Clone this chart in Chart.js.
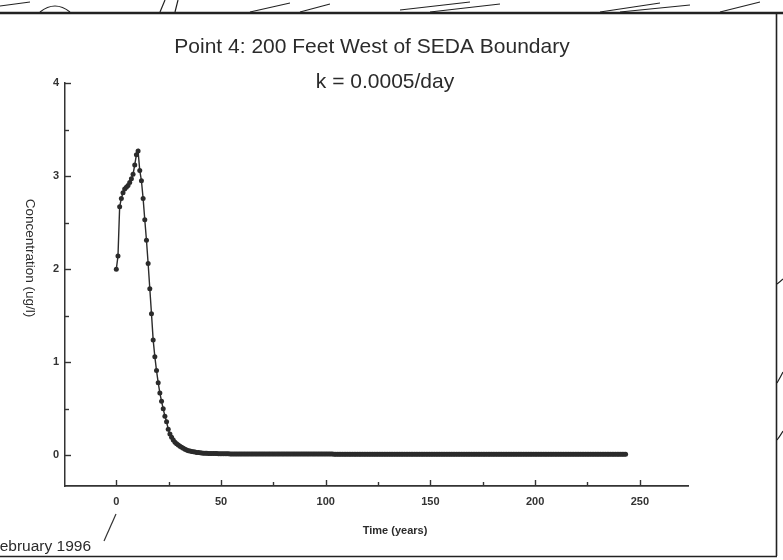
<!DOCTYPE html>
<html>
<head>
<meta charset="utf-8">
<script src="https://cdn.jsdelivr.net/npm/chart.js@4.4.1/dist/chart.umd.min.js"></script>
<style>
  html, body { margin: 0; padding: 0; background: #ffffff; overflow: hidden; }
  #c { display: block; }
</style>
</head>
<body>
<canvas id="c" width="783" height="560"></canvas>
<script>
// ---- Data ----
const titleLines = ['Point 4: 200 Feet West of SEDA Boundary', 'k = 0.0005/day'];
const xAxisTitle = 'Time (years)';
const yAxisTitle = 'Concentration (ug/l)';
const startNote = 'February 1996';
const timeStepYears = 0.8;   // spacing of the model output points (years)
const concentration = [
  2.00, 2.14, 2.67, 2.76, 2.82, 2.86, 2.88, 2.90, 2.93, 2.97,
  3.02, 3.12, 3.23, 3.27, 3.06, 2.95, 2.76, 2.53, 2.31, 2.06,
  1.79, 1.52, 1.24, 1.06, 0.91, 0.78, 0.67, 0.58, 0.50, 0.42,
  0.36, 0.28, 0.23, 0.195, 0.165, 0.14, 0.125, 0.11, 0.097, 0.086,
  0.075, 0.065, 0.056, 0.050, 0.045, 0.041, 0.037, 0.034, 0.031, 0.029,
  0.027, 0.025, 0.023, 0.022, 0.021, 0.020, 0.019, 0.019, 0.018, 0.018,
  0.018, 0.017, 0.017, 0.017, 0.016, 0.016, 0.016, 0.016, 0.015, 0.015,
  0.015, 0.015, 0.015, 0.015, 0.015, 0.015, 0.015, 0.015, 0.015, 0.015,
  0.014, 0.014, 0.014, 0.014, 0.014, 0.014, 0.014, 0.014, 0.014, 0.014,
  0.014, 0.014, 0.014, 0.014, 0.014, 0.014, 0.014, 0.014, 0.014, 0.014,
  0.013, 0.013, 0.013, 0.013, 0.013, 0.013, 0.013, 0.013, 0.013, 0.013,
  0.013, 0.013, 0.013, 0.013, 0.013, 0.013, 0.013, 0.013, 0.013, 0.013,
  0.013, 0.013, 0.013, 0.013, 0.013, 0.013, 0.013, 0.013, 0.013, 0.013,
  0.012, 0.012, 0.012, 0.012, 0.012, 0.012, 0.012, 0.012, 0.012, 0.012,
  0.012, 0.012, 0.012, 0.012, 0.012, 0.012, 0.012, 0.012, 0.012, 0.012,
  0.012, 0.012, 0.012, 0.012, 0.012, 0.012, 0.012, 0.012, 0.012, 0.012,
  0.012, 0.012, 0.012, 0.012, 0.012, 0.012, 0.012, 0.012, 0.012, 0.012,
  0.011, 0.011, 0.011, 0.011, 0.011, 0.011, 0.011, 0.011, 0.011, 0.011,
  0.011, 0.011, 0.011, 0.011, 0.011, 0.011, 0.011, 0.011, 0.011, 0.011,
  0.011, 0.011, 0.011, 0.011, 0.011, 0.011, 0.011, 0.011, 0.011, 0.011,
  0.011, 0.011, 0.011, 0.011, 0.011, 0.011, 0.011, 0.011, 0.011, 0.011,
  0.011, 0.011, 0.011, 0.011, 0.011, 0.011, 0.011, 0.011, 0.011, 0.011,
  0.010, 0.010, 0.010, 0.010, 0.010, 0.010, 0.010, 0.010, 0.010, 0.010,
  0.010, 0.010, 0.010, 0.010, 0.010, 0.010, 0.010, 0.010, 0.010, 0.010,
  0.010, 0.010, 0.010, 0.010, 0.010, 0.010, 0.010, 0.010, 0.010, 0.010,
  0.010, 0.010, 0.010, 0.010, 0.010, 0.010, 0.010, 0.010, 0.010, 0.010,
  0.010, 0.010, 0.010, 0.010, 0.010, 0.010, 0.010, 0.010, 0.010, 0.010,
  0.010, 0.010, 0.010, 0.010, 0.010, 0.010, 0.010, 0.010, 0.010, 0.010,
  0.010, 0.010, 0.010, 0.010, 0.010, 0.010, 0.010, 0.010, 0.010, 0.010,
  0.010, 0.010, 0.010, 0.010, 0.010, 0.010, 0.010, 0.010, 0.010, 0.010,
  0.010, 0.010, 0.010, 0.010, 0.010
];
const xTickStep = 25;      // ticks every 25 years, labels every 50
const yTickStep = 0.5;     // ticks every 0.5, labels every 1

// ---- Build points ----
const points = concentration.map((v, i) => ({ x: i * timeStepYears, y: v }));

const INK = '#2b2b2b';
const FONT = '"Liberation Sans", Arial, Helvetica, sans-serif';

const decor = {
  id: 'decor',
  afterDraw(chart) {
    const { ctx, chartArea, scales } = chart;
    const xs = scales.x, ys = scales.y;
    ctx.save();
    ctx.strokeStyle = '#333';
    ctx.lineWidth = 1.4;
    // inward tick marks
    xs.ticks.forEach(t => {
      const px = Math.round(xs.getPixelForValue(t.value)) + 0.5;
      const len = (t.value % 50 === 0) ? 6 : 4;
      ctx.beginPath();
      ctx.moveTo(px, chartArea.bottom);
      ctx.lineTo(px, chartArea.bottom - len);
      ctx.stroke();
    });
    ys.ticks.forEach(t => {
      if (t.value < 0) return;
      const py = Math.round(ys.getPixelForValue(t.value)) + 0.5;
      const len = Number.isInteger(t.value) ? 6 : 4;
      ctx.beginPath();
      ctx.moveTo(chartArea.left, py);
      ctx.lineTo(chartArea.left + len, py);
      ctx.stroke();
    });

    // titles
    ctx.fillStyle = INK;
    ctx.textBaseline = 'alphabetic';
    ctx.textAlign = 'center';
    ctx.font = '21px ' + FONT;
    ctx.fillText(titleLines[0], 372, 53);
    ctx.fillText(titleLines[1], 385, 88);

    // x axis title
    ctx.font = 'bold 11px ' + FONT;
    ctx.textBaseline = 'middle';
    ctx.fillText(xAxisTitle, 395, 531);

    // y axis title (reads top to bottom)
    ctx.save();
    ctx.translate(30, 258);
    ctx.rotate(Math.PI / 2);
    ctx.font = '13.5px ' + FONT;
    ctx.fillText(yAxisTitle, 0, 0);
    ctx.restore();

    // start-date note with pointer (left edge cut by the scan)
    ctx.textAlign = 'right';
    ctx.font = '15.5px ' + FONT;
    ctx.fillText(startNote, 91, 547);
    ctx.beginPath();
    ctx.lineWidth = 1.2;
    ctx.moveTo(104, 541);
    ctx.lineTo(116, 514);
    ctx.stroke();

    // page frame from the scanned sheet
    ctx.strokeStyle = '#222';
    ctx.lineWidth = 1.6;
    ctx.beginPath();
    ctx.moveTo(776.5, 14);
    ctx.lineTo(776.5, 556);
    ctx.moveTo(0, 556.5);
    ctx.lineTo(777, 556.5);
    ctx.stroke();
    ctx.lineWidth = 2.5;
    ctx.beginPath();
    ctx.moveTo(0, 13);
    ctx.lineTo(783, 13);
    ctx.stroke();
    // sketchy strokes above the frame
    ctx.lineWidth = 1.2;
    ctx.beginPath();
    ctx.moveTo(0, 6); ctx.lineTo(30, 2);
    ctx.moveTo(40, 12); ctx.quadraticCurveTo(55, 0, 70, 12);
    ctx.moveTo(160, 12); ctx.lineTo(165, 0);
    ctx.moveTo(175, 12); ctx.lineTo(178, 0);
    ctx.moveTo(250, 12); ctx.lineTo(290, 3);
    ctx.moveTo(300, 12); ctx.lineTo(330, 4);
    ctx.moveTo(400, 10); ctx.lineTo(470, 2);
    ctx.moveTo(430, 12); ctx.lineTo(500, 4);
    ctx.moveTo(600, 12); ctx.lineTo(660, 3);
    ctx.moveTo(620, 12); ctx.lineTo(690, 5);
    ctx.moveTo(720, 12); ctx.lineTo(760, 2);
    ctx.stroke();
    // lines leaving the frame on the right
    ctx.beginPath();
    ctx.moveTo(777, 284); ctx.quadraticCurveTo(780, 282, 783, 279);
    ctx.moveTo(777, 383); ctx.quadraticCurveTo(780, 378, 783, 372);
    ctx.moveTo(777, 440); ctx.quadraticCurveTo(780, 436, 783, 431);
    ctx.stroke();
    ctx.restore();
  }
};

new Chart(document.getElementById('c'), {
  type: 'line',
  data: {
    datasets: [{
      data: points,
      borderColor: INK,
      backgroundColor: INK,
      borderWidth: 1.4,
      pointRadius: 2.5,
      pointBorderWidth: 0,
      pointBackgroundColor: INK,
      tension: 0,
      fill: false
    }]
  },
  options: {
    responsive: false,
    animation: false,
    events: [],
    layout: { padding: { top: 83, right: 95, left: 0, bottom: 0 } },
    plugins: {
      legend: { display: false },
      title: { display: false },
      tooltip: { enabled: false }
    },
    scales: {
      x: {
        type: 'linear',
        min: -24.5,
        max: 273,
        afterFit: s => { s.height = 74; },
        grid: { display: false, drawTicks: false },
        border: { display: true, color: '#333', width: 1.7 },
        ticks: {
          stepSize: xTickStep,
          includeBounds: false,
          autoSkip: false,
          maxRotation: 0,
          padding: 9,
          color: '#333',
          font: { family: FONT, size: 11, weight: 'bold' },
          callback: v => (v % 50 === 0 ? String(v) : '')
        }
      },
      y: {
        type: 'linear',
        min: -0.33,
        max: 4,
        afterFit: s => { s.width = 65; },
        grid: { display: false, drawTicks: false },
        border: { display: true, color: '#333', width: 1.5 },
        ticks: {
          stepSize: yTickStep,
          includeBounds: false,
          autoSkip: false,
          padding: 6,
          color: '#333',
          font: { family: FONT, size: 11, weight: 'bold' },
          callback: v => (Number.isInteger(v) && v >= 0 ? String(v) : '')
        }
      }
    }
  },
  plugins: [decor]
});
</script>
</body>
</html>
